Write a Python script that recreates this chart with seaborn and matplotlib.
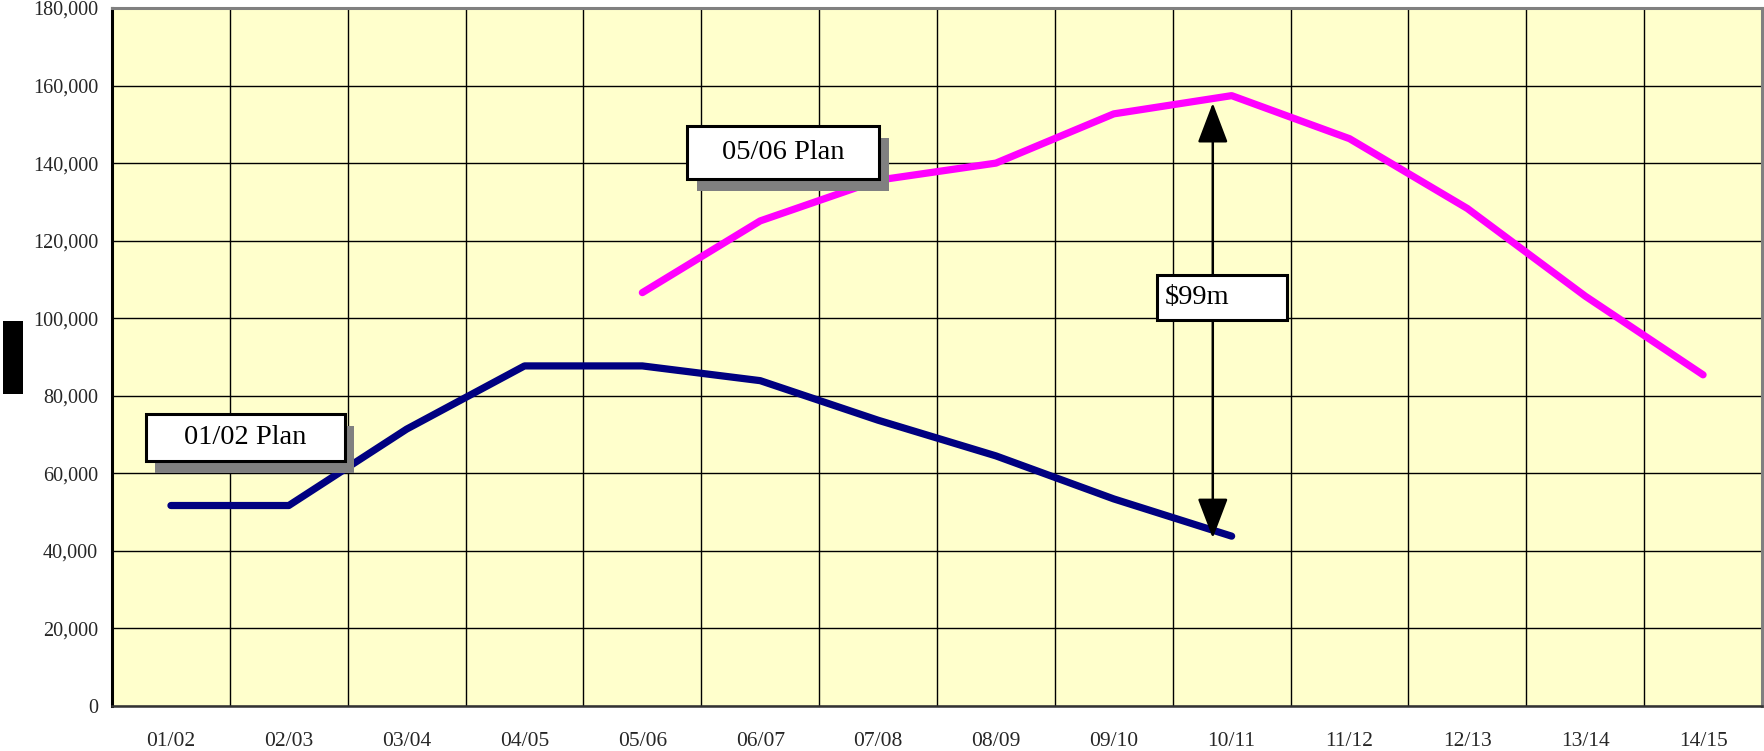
import numpy as np
import pandas as pd
import matplotlib
matplotlib.use("Agg")
import matplotlib.pyplot as plt
from matplotlib.patches import Rectangle
from matplotlib.ticker import FuncFormatter, FixedLocator
import seaborn as sns

# Financial years on the category axis
years = ["01/02", "02/03", "03/04", "04/05", "05/06", "06/07", "07/08",
         "08/09", "09/10", "10/11", "11/12", "12/13", "13/14", "14/15"]

# 01/02 Plan runs from 01/02 to 10/11
plan_0102_years = years[0:10]
plan_0102_values = [51700, 51700, 71400, 87700, 87700, 83900, 73700, 64500, 53400, 43800]

# 05/06 Plan runs from 05/06 to 14/15
plan_0506_years = years[4:14]
plan_0506_values = [106600, 125100, 135600, 140000, 152700, 157400, 146300, 128300, 105700, 85400]

y_ticks = list(range(0, 180001, 20000))
gap_label = "$99m"

sns.set_style("white")
plt.rcParams["font.family"] = ["Liberation Serif", "DejaVu Serif"]

pos = {y: i for i, y in enumerate(years)}
df = pd.concat([
    pd.DataFrame({"year": plan_0102_years, "value": plan_0102_values, "plan": "01/02 Plan"}),
    pd.DataFrame({"year": plan_0506_years, "value": plan_0506_values, "plan": "05/06 Plan"}),
], ignore_index=True)
df["x"] = df["year"].map(pos)

fig = plt.figure(figsize=(17.65, 7.51), dpi=100)
ax = fig.add_axes([112 / 1765, 45 / 751, 1650 / 1765, 698 / 751])
ax.set_facecolor("#FFFFCC")

sns.lineplot(data=df, x="x", y="value", hue="plan",
             palette={"01/02 Plan": "#000080", "05/06 Plan": "#FF00FF"},
             linewidth=5.2, legend=False, ax=ax, sort=False,
             solid_capstyle="round", solid_joinstyle="round", zorder=3)

ax.set_xlim(-0.5, len(years) - 0.5)
ax.set_ylim(0, 180000)

# category boundaries carry ticks and gridlines, labels sit at the centres
ax.xaxis.set_major_locator(FixedLocator(np.arange(-0.5, len(years), 1.0)))
ax.xaxis.set_minor_locator(FixedLocator(np.arange(len(years))))
ax.set_xticklabels([], minor=False)
ax.set_xticklabels(years, minor=True)
ax.tick_params(axis="x", which="major", direction="out", length=6, width=1.5, color="#333333")
ax.tick_params(axis="x", which="minor", length=0, pad=19, labelsize=15.5)

ax.set_yticks(y_ticks)
ax.yaxis.set_major_formatter(FuncFormatter(lambda v, p: f"{v:,.0f}"))
ax.tick_params(axis="y", direction="out", length=6, width=2.5, color="black",
               labelsize=14.5, pad=4)

ax.grid(True, which="major", color="black", linewidth=1.0)
ax.set_axisbelow(True)
ax.set_xlabel("")
ax.set_ylabel("")

for side in ("top", "right"):
    ax.spines[side].set_color("#808080")
    ax.spines[side].set_linewidth(2.2)
ax.spines["left"].set_color("black")
ax.spines["left"].set_linewidth(2.2)
ax.spines["bottom"].set_color("#333333")
ax.spines["bottom"].set_linewidth(1.8)


def label_box(x0, x1, y0, y1, text, shadow=None, ha="center", fontsize=20.5):
    if shadow is not None:
        dx, dy = shadow
        ax.add_patch(Rectangle((x0 + dx, y0 + dy), x1 - x0, y1 - y0,
                               facecolor="#808080", edgecolor="none", zorder=4))
    ax.add_patch(Rectangle((x0, y0), x1 - x0, y1 - y0, facecolor="white",
                           edgecolor="black", linewidth=2.2, zorder=5))
    tx = (x0 + x1) / 2 if ha == "center" else x0 + 0.07
    ax.text(tx, (y0 + y1) / 2, text, ha=ha, va="center", fontsize=fontsize,
            color="black", zorder=6)


# gap arrow between the two plans
arrow_x = 8.84
ax.annotate("", xy=(arrow_x, 155500), xytext=(arrow_x, 43300),
            arrowprops=dict(arrowstyle="<|-|>,head_length=2.5,head_width=0.95",
                            color="black", lw=1.8, shrinkA=0, shrinkB=0),
            zorder=4)

label_box(-0.212, 1.477, 63200, 75300, "01/02 Plan", shadow=(0.076, -3100))
label_box(4.379, 6.008, 135900, 149600, "05/06 Plan", shadow=(0.085, -3100))
label_box(8.366, 9.469, 99500, 111100, gap_label, ha="left", fontsize=20.5)

# masked axis title on the left
fig.patches.append(Rectangle((3 / 1765, 1 - 394 / 751), 20 / 1765, 73 / 751,
                             transform=fig.transFigure, facecolor="black",
                             edgecolor="none"))

fig.savefig("out.png", dpi=100, facecolor="white")
